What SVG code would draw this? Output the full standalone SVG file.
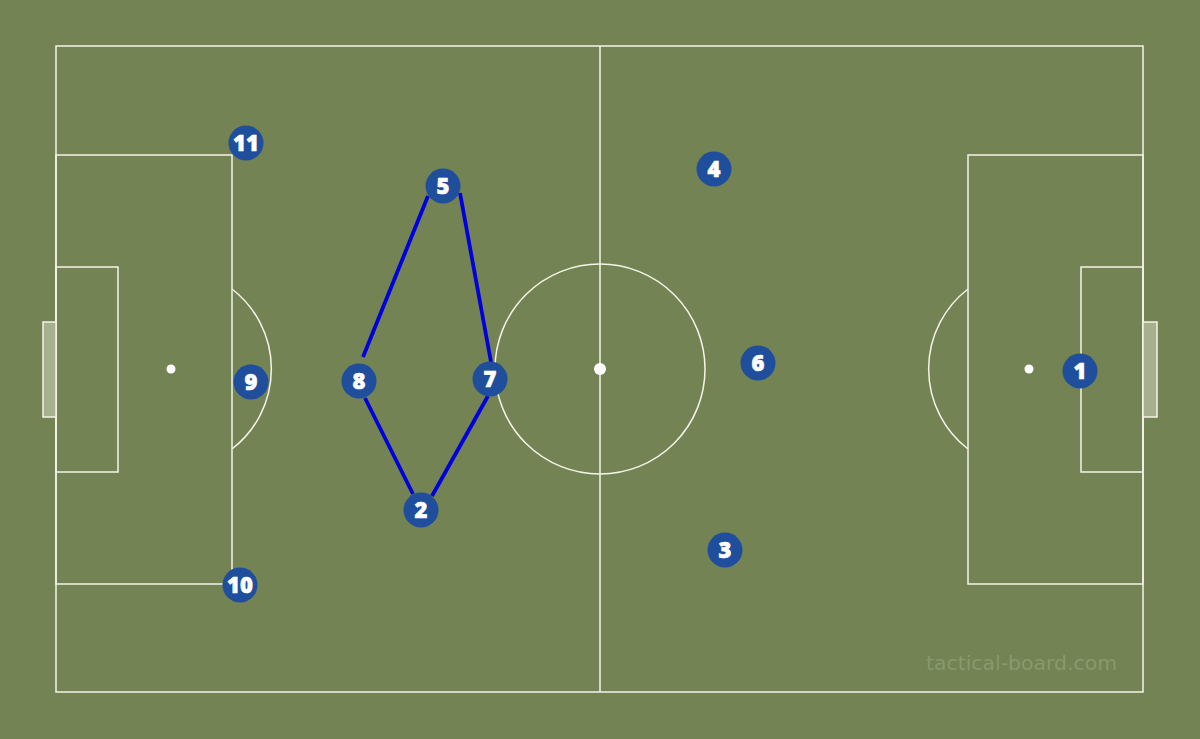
<svg xmlns="http://www.w3.org/2000/svg" width="1200" height="739" viewBox="0 0 1200 739">
<style>
.ln{fill:none;stroke:#f4f4e8;stroke-width:1.5}
.goal{fill:#a6b08c;stroke:#f4f4e8;stroke-width:1.5}
.pl circle{fill:#1f4e9c}
.pl text{fill:#ffffff;font-family:"Open Sans","DejaVu Sans",sans-serif;font-weight:800;font-size:22px;text-anchor:middle;stroke:#ffffff;stroke-width:0.6}
.cn{stroke:#0000dd;stroke-width:3.8;stroke-linecap:butt}
</style>
<rect width="1200" height="739" fill="#738354"/>
<g id="pitch">
<rect class="ln" x="56" y="46" width="1087" height="646"/>
<line class="ln" x1="600" y1="46" x2="600" y2="692"/>
<circle class="ln" cx="600" cy="369" r="105"/>
<circle cx="600" cy="369" r="6" fill="#ffffff"/>
<rect class="ln" x="56" y="155" width="176" height="429"/>
<rect class="ln" x="56" y="267" width="62" height="205"/>
<circle cx="171" cy="369" r="4.5" fill="#ffffff"/>
<path class="ln" d="M232 289 A101 101 0 0 1 232 449"/>
<rect class="goal" x="43" y="322" width="13" height="95"/>
<rect class="ln" x="968" y="155" width="175" height="429"/>
<rect class="ln" x="1081" y="267" width="62" height="205"/>
<circle cx="1029" cy="369" r="4.5" fill="#ffffff"/>
<path class="ln" d="M968 289 A101 101 0 0 0 968 449"/>
<rect class="goal" x="1143" y="322" width="14" height="95"/>
</g>
<g id="connectors">
<line class="cn" x1="428" y1="196" x2="363" y2="357"/>
<line class="cn" x1="460" y1="193" x2="491" y2="362"/>
<line class="cn" x1="365" y1="398" x2="413" y2="494"/>
<line class="cn" x1="488" y1="396" x2="432" y2="496"/>
</g>
<g id="p11" class="pl"><circle cx="246" cy="143" r="17.5"/><text x="246" y="151">11</text></g>
<g id="p5" class="pl"><circle cx="443" cy="186" r="17.5"/><text x="443" y="194">5</text></g>
<g id="p4" class="pl"><circle cx="714" cy="169" r="17.5"/><text x="714" y="177">4</text></g>
<g id="p8" class="pl"><circle cx="359" cy="381" r="17.5"/><text x="359" y="389">8</text></g>
<g id="p7" class="pl"><circle cx="490" cy="379" r="17.5"/><text x="490" y="387">7</text></g>
<g id="p9" class="pl"><circle cx="251" cy="382" r="17.5"/><text x="251" y="390">9</text></g>
<g id="p6" class="pl"><circle cx="758" cy="363" r="17.5"/><text x="758" y="371">6</text></g>
<g id="p1" class="pl"><circle cx="1080" cy="371" r="17.5"/><text x="1080" y="379">1</text></g>
<g id="p2" class="pl"><circle cx="421" cy="510" r="17.5"/><text x="421" y="518">2</text></g>
<g id="p3" class="pl"><circle cx="725" cy="550" r="17.5"/><text x="725" y="558">3</text></g>
<g id="p10" class="pl"><circle cx="240" cy="585" r="17.5"/><text x="240" y="593">10</text></g>
<text x="926" y="670" font-family="'DejaVu Sans',sans-serif" font-size="20" fill="#889a6c" textLength="191" lengthAdjust="spacingAndGlyphs">tactical-board.com</text>
</svg>
